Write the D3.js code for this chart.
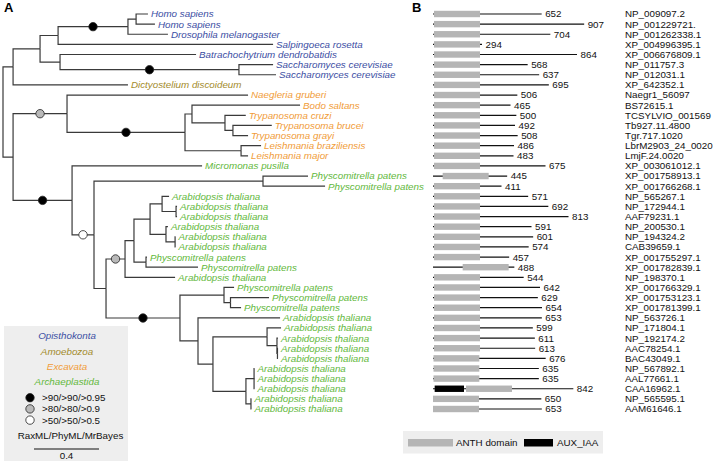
<!DOCTYPE html>
<html><head><meta charset="utf-8">
<script src="https://cdn.jsdelivr.net/npm/d3@7"></script>
<style>
body{margin:0;background:#fff}
svg{display:block;font-family:"Liberation Sans",Arial,Helvetica,sans-serif}
</style>
</head><body>
<svg id="chart" width="716" height="461"></svg>
<script>
// ---------------- DATA ----------------
// Phylogeny (branch lengths in substitutions/site; internal labels: b/g/w = support class)
const newick = "((((((L0:0.073,L1:0.116):0.050,L2:0.246)b:0.430,L3:1.323):0.111,(L4:0.837,(L5:0.210,L6:0.228)b:1.101):0.123):0.166,L7:0.707):0.062," +
 "((L8:1.114,((L9:0.665,(L10:0.128,(L11:0.239,L12:0.093):0.049):0.203):0.043,(L13:0.123,L14:0.043):0.345)b:0.726)g:0.332," +
 "(L15:0.800,((L16:0.277,L17:0.382):1.040,(((((L18:0.043,(L19:0.006,L20:0.006):0.086):0.074,(L21:0.012,(L22:0.003,L23:0.003):0.056):0.098):0.099,(L24:0.006,L25:0.320):0.074):0.055,L26:0.308)g:0.117," +
 "((L27:0.062,(L28:0.237,L29:0.065):0.040):0.271,(L30:0.505,((L31:0.086,(L32:0.006,(L33:0.003,L34:0.003):0.003):0.061):0.333,((L35:0.003,L36:0.003,L37:0.003):0.050,(L38:0.003,L39:0.003):0.031):0.203):0.092):0.111)b:0.455):0.074)w:0.135)b:0.363):0.062);";

const species = [
 "Homo sapiens","Homo sapiens","Drosophila melanogaster","Salpingoeca rosetta",
 "Batrachochytrium dendrobatidis","Saccharomyces cerevisiae","Saccharomyces cerevisiae",
 "Dictyostelium discoideum",
 "Naegleria gruberi","Bodo saltans","Trypanosoma cruzi","Trypanosoma brucei","Trypanosoma grayi",
 "Leishmania braziliensis","Leishmania major",
 "Micromonas pusilla","Physcomitrella patens","Physcomitrella patens",
 "Arabidopsis thaliana","Arabidopsis thaliana","Arabidopsis thaliana","Arabidopsis thaliana","Arabidopsis thaliana","Arabidopsis thaliana",
 "Physcomitrella patens","Physcomitrella patens","Arabidopsis thaliana",
 "Physcomitrella patens","Physcomitrella patens","Physcomitrella patens",
 "Arabidopsis thaliana","Arabidopsis thaliana","Arabidopsis thaliana","Arabidopsis thaliana","Arabidopsis thaliana",
 "Arabidopsis thaliana","Arabidopsis thaliana","Arabidopsis thaliana","Arabidopsis thaliana","Arabidopsis thaliana"
];
const leafClade = [0,0,0,0,0,0,0,1,2,2,2,2,2,2,2,3,3,3,3,3,3,3,3,3,3,3,3,3,3,3,3,3,3,3,3,3,3,3,3,3];
const clades = ["Opisthokonta","Amoebozoa","Excavata","Archaeplastida"];
const cladeColors = ["#3b4ea3","#a38b2b","#f19c38","#62b83b"];
const supportKeys = ["b","g","w"];
const supportLabels = [">90/>90/>0.95",">80/>80/>0.9",">50/>50/>0.5"];
const supportFills = ["#000000","#b9b9b9","#ffffff"];
const scaleBarValue = 0.4;

const accessions = [
 "NP_009097.2","NP_001229721.","NP_001262338.1","XP_004996395.1","XP_006676809.1","NP_011757.3","NP_012031.1","XP_642352.1",
 "Naegr1_56097","BS72615.1","TCSYLVIO_001569","Tb927.11.4800","Tgr.717.1020","LbrM2903_24_0020","LmjF.24.0020",
 "XP_003061012.1","XP_001758913.1","XP_001766268.1","NP_565267.1","NP_172944.1","AAF79231.1","NP_200530.1","NP_194324.2","CAB39659.1",
 "XP_001755297.1","XP_001782839.1","NP_198370.1","XP_001766329.1","XP_001753123.1","XP_001781399.1",
 "NP_563726.1","NP_171804.1","NP_192174.2","AAC78254.1","BAC43049.1","NP_567892.1","AAL77661.1","CAA16962.1","NP_565595.1","AAM61646.1"
];
const proteinLengths = [652,907,704,294,864,568,637,695,506,465,500,492,508,486,483,675,445,411,571,692,813,591,601,574,457,488,544,642,629,654,653,599,611,613,676,635,635,842,650,653];
const anthStart = [6,6,6,6,6,6,6,6,6,6,6,6,6,6,6,6,58,6,6,6,6,6,6,6,6,178,6,6,6,6,6,6,6,6,3,3,3,198,0,0];
const anthEnd   = [282,282,282,282,282,282,282,282,282,282,282,282,282,282,282,282,334,282,282,282,282,282,282,282,282,454,282,282,282,282,282,282,282,282,278,278,278,474,276,276];
const auxRows = [37];
const auxStart = [10];
const auxEnd = [186];
const domainNames = ["ANTH domain","AUX_IAA"];
const domainColors = ["#b5b5b5","#000000"];

// ---------------- SETUP ----------------
const svg = d3.select("#chart");
const FS = 9.8;
const nRows = species.length;
const yRow = d3.scaleLinear().domain([0, nRows - 1]).range([14, 409]);
const xTree = d3.scaleLinear().domain([0, 1]).range([3, 165.5]);
const xAA = d3.scaleLinear().domain([0, 900]).range([433, 583]);

// Newick parser
function parseNewick(s) {
  let i = 0;
  function node() {
    const n = {children: [], name: "", length: 0};
    if (s[i] === "(") {
      i++;
      n.children.push(node());
      while (s[i] === ",") { i++; n.children.push(node()); }
      i++; // ')'
    }
    let name = "";
    while (i < s.length && !",():;".includes(s[i])) name += s[i++];
    n.name = name;
    if (s[i] === ":") {
      i++;
      let num = "";
      while (i < s.length && !",();".includes(s[i])) num += s[i++];
      n.length = +num;
    }
    return n;
  }
  return node();
}

const root = d3.hierarchy(parseNewick(newick), d => d.children.length ? d.children : null);
root.eachBefore(d => { d.dist = (d.parent ? d.parent.dist + d.data.length : 0); d.x = xTree(d.dist); });
root.leaves().forEach(l => { l.idx = +l.data.name.slice(1); l.y = yRow(l.idx); });
root.eachAfter(d => { if (d.children) d.y = (d.children[0].y + d.children[d.children.length - 1].y) / 2; });

// ---------------- PANEL A ----------------
const gA = svg.append("g");
gA.append("text").attr("x", 4).attr("y", 12).attr("font-size", 13).attr("font-weight", "bold").text("A");

gA.append("g").selectAll("path").data(root.descendants().filter(d => d.parent)).join("path")
  .attr("d", d => `M${d.parent.x},${d.parent.y}V${d.y}H${d.x}`)
  .attr("fill", "none").attr("stroke", "#3a3a3a").attr("stroke-width", 1.2);

gA.append("g").selectAll("circle").data(root.descendants().filter(d => d.parent && supportKeys.includes(d.data.name))).join("circle")
  .attr("cx", d => (d.parent.x + d.x) / 2).attr("cy", d => d.y).attr("r", 4.2)
  .attr("fill", d => supportFills[supportKeys.indexOf(d.data.name)])
  .attr("stroke", "#222").attr("stroke-width", 0.8);

gA.append("g").selectAll("text").data(root.leaves()).join("text")
  .attr("x", d => d.x + 3).attr("y", d => d.y).attr("dy", "0.35em")
  .attr("font-size", FS).attr("font-style", "italic")
  .attr("fill", d => cladeColors[leafClade[d.idx]])
  .text(d => species[d.idx]);

// Legend A
const lg = gA.append("g");
lg.append("rect").attr("x", 4).attr("y", 326).attr("width", 124).attr("height", 140).attr("fill", "#eeeeee");
clades.forEach((c, i) => {
  lg.append("text").attr("x", 67).attr("y", 336 + i * 15.3).attr("dy", "0.35em").attr("text-anchor", "middle")
    .attr("font-size", FS).attr("font-style", "italic").attr("fill", cladeColors[i]).text(c);
});
supportLabels.forEach((s, i) => {
  const cy = 397.7 + i * 11.2;
  lg.append("circle").attr("cx", 30).attr("cy", cy).attr("r", 4.2).attr("fill", supportFills[i]).attr("stroke", "#222").attr("stroke-width", 0.8);
  lg.append("text").attr("x", 42).attr("y", cy).attr("dy", "0.35em").attr("font-size", FS).attr("fill", "#111").text(s);
});
lg.append("text").attr("x", 70.5).attr("y", 436).attr("dy", "0.35em").attr("text-anchor", "middle").attr("font-size", FS).attr("fill", "#111").text("RaxML/PhyML/MrBayes");
const sbLen = xTree(scaleBarValue) - xTree(0);
lg.append("line").attr("x1", 34).attr("x2", 34 + sbLen).attr("y1", 449).attr("y2", 449).attr("stroke", "#111").attr("stroke-width", 1);
lg.append("text").attr("x", 34 + sbLen / 2).attr("y", 455.5).attr("dy", "0.35em").attr("text-anchor", "middle").attr("font-size", FS).attr("fill", "#111").text(String(scaleBarValue));

// ---------------- PANEL B ----------------
const gB = svg.append("g");
gB.append("text").attr("x", 412).attr("y", 11.5).attr("font-size", 13).attr("font-weight", "bold").text("B");

const rows = d3.range(nRows);
gB.append("g").selectAll("line").data(rows).join("line")
  .attr("x1", xAA(0)).attr("x2", i => xAA(proteinLengths[i]))
  .attr("y1", i => yRow(i)).attr("y2", i => yRow(i))
  .attr("stroke", "#111").attr("stroke-width", 1.2);
gB.append("g").selectAll("rect").data(rows).join("rect")
  .attr("x", i => xAA(anthStart[i])).attr("width", i => xAA(anthEnd[i]) - xAA(anthStart[i]))
  .attr("y", i => yRow(i) - 3.2).attr("height", 6.4).attr("fill", domainColors[0]);
gB.append("g").selectAll("rect").data(auxRows.map((r, k) => k)).join("rect")
  .attr("x", k => xAA(auxStart[k])).attr("width", k => xAA(auxEnd[k]) - xAA(auxStart[k]))
  .attr("y", k => yRow(auxRows[k]) - 3.2).attr("height", 6.4).attr("fill", domainColors[1]);
gB.append("g").selectAll("text").data(rows).join("text")
  .attr("x", i => xAA(proteinLengths[i]) + 3.5).attr("y", i => yRow(i)).attr("dy", "0.35em")
  .attr("font-size", FS).attr("fill", "#111").text(i => proteinLengths[i]);
gB.append("g").selectAll("text").data(rows).join("text")
  .attr("x", 625).attr("y", i => yRow(i)).attr("dy", "0.35em")
  .attr("font-size", FS).attr("fill", "#111").text(i => accessions[i]);

// Legend B
const lb = gB.append("g");
lb.append("rect").attr("x", 403).attr("y", 431).attr("width", 200).attr("height", 22.5).attr("fill", "#eeeeee");
const swX = [408, 524], swW = [45, 29], txX = [456, 557];
domainNames.forEach((n, i) => {
  lb.append("rect").attr("x", swX[i]).attr("y", 439).attr("width", swW[i]).attr("height", 7.5).attr("fill", domainColors[i]);
  lb.append("text").attr("x", txX[i]).attr("y", 442.7).attr("dy", "0.35em").attr("font-size", FS).attr("fill", "#111").text(n);
});
</script>
</body></html>
